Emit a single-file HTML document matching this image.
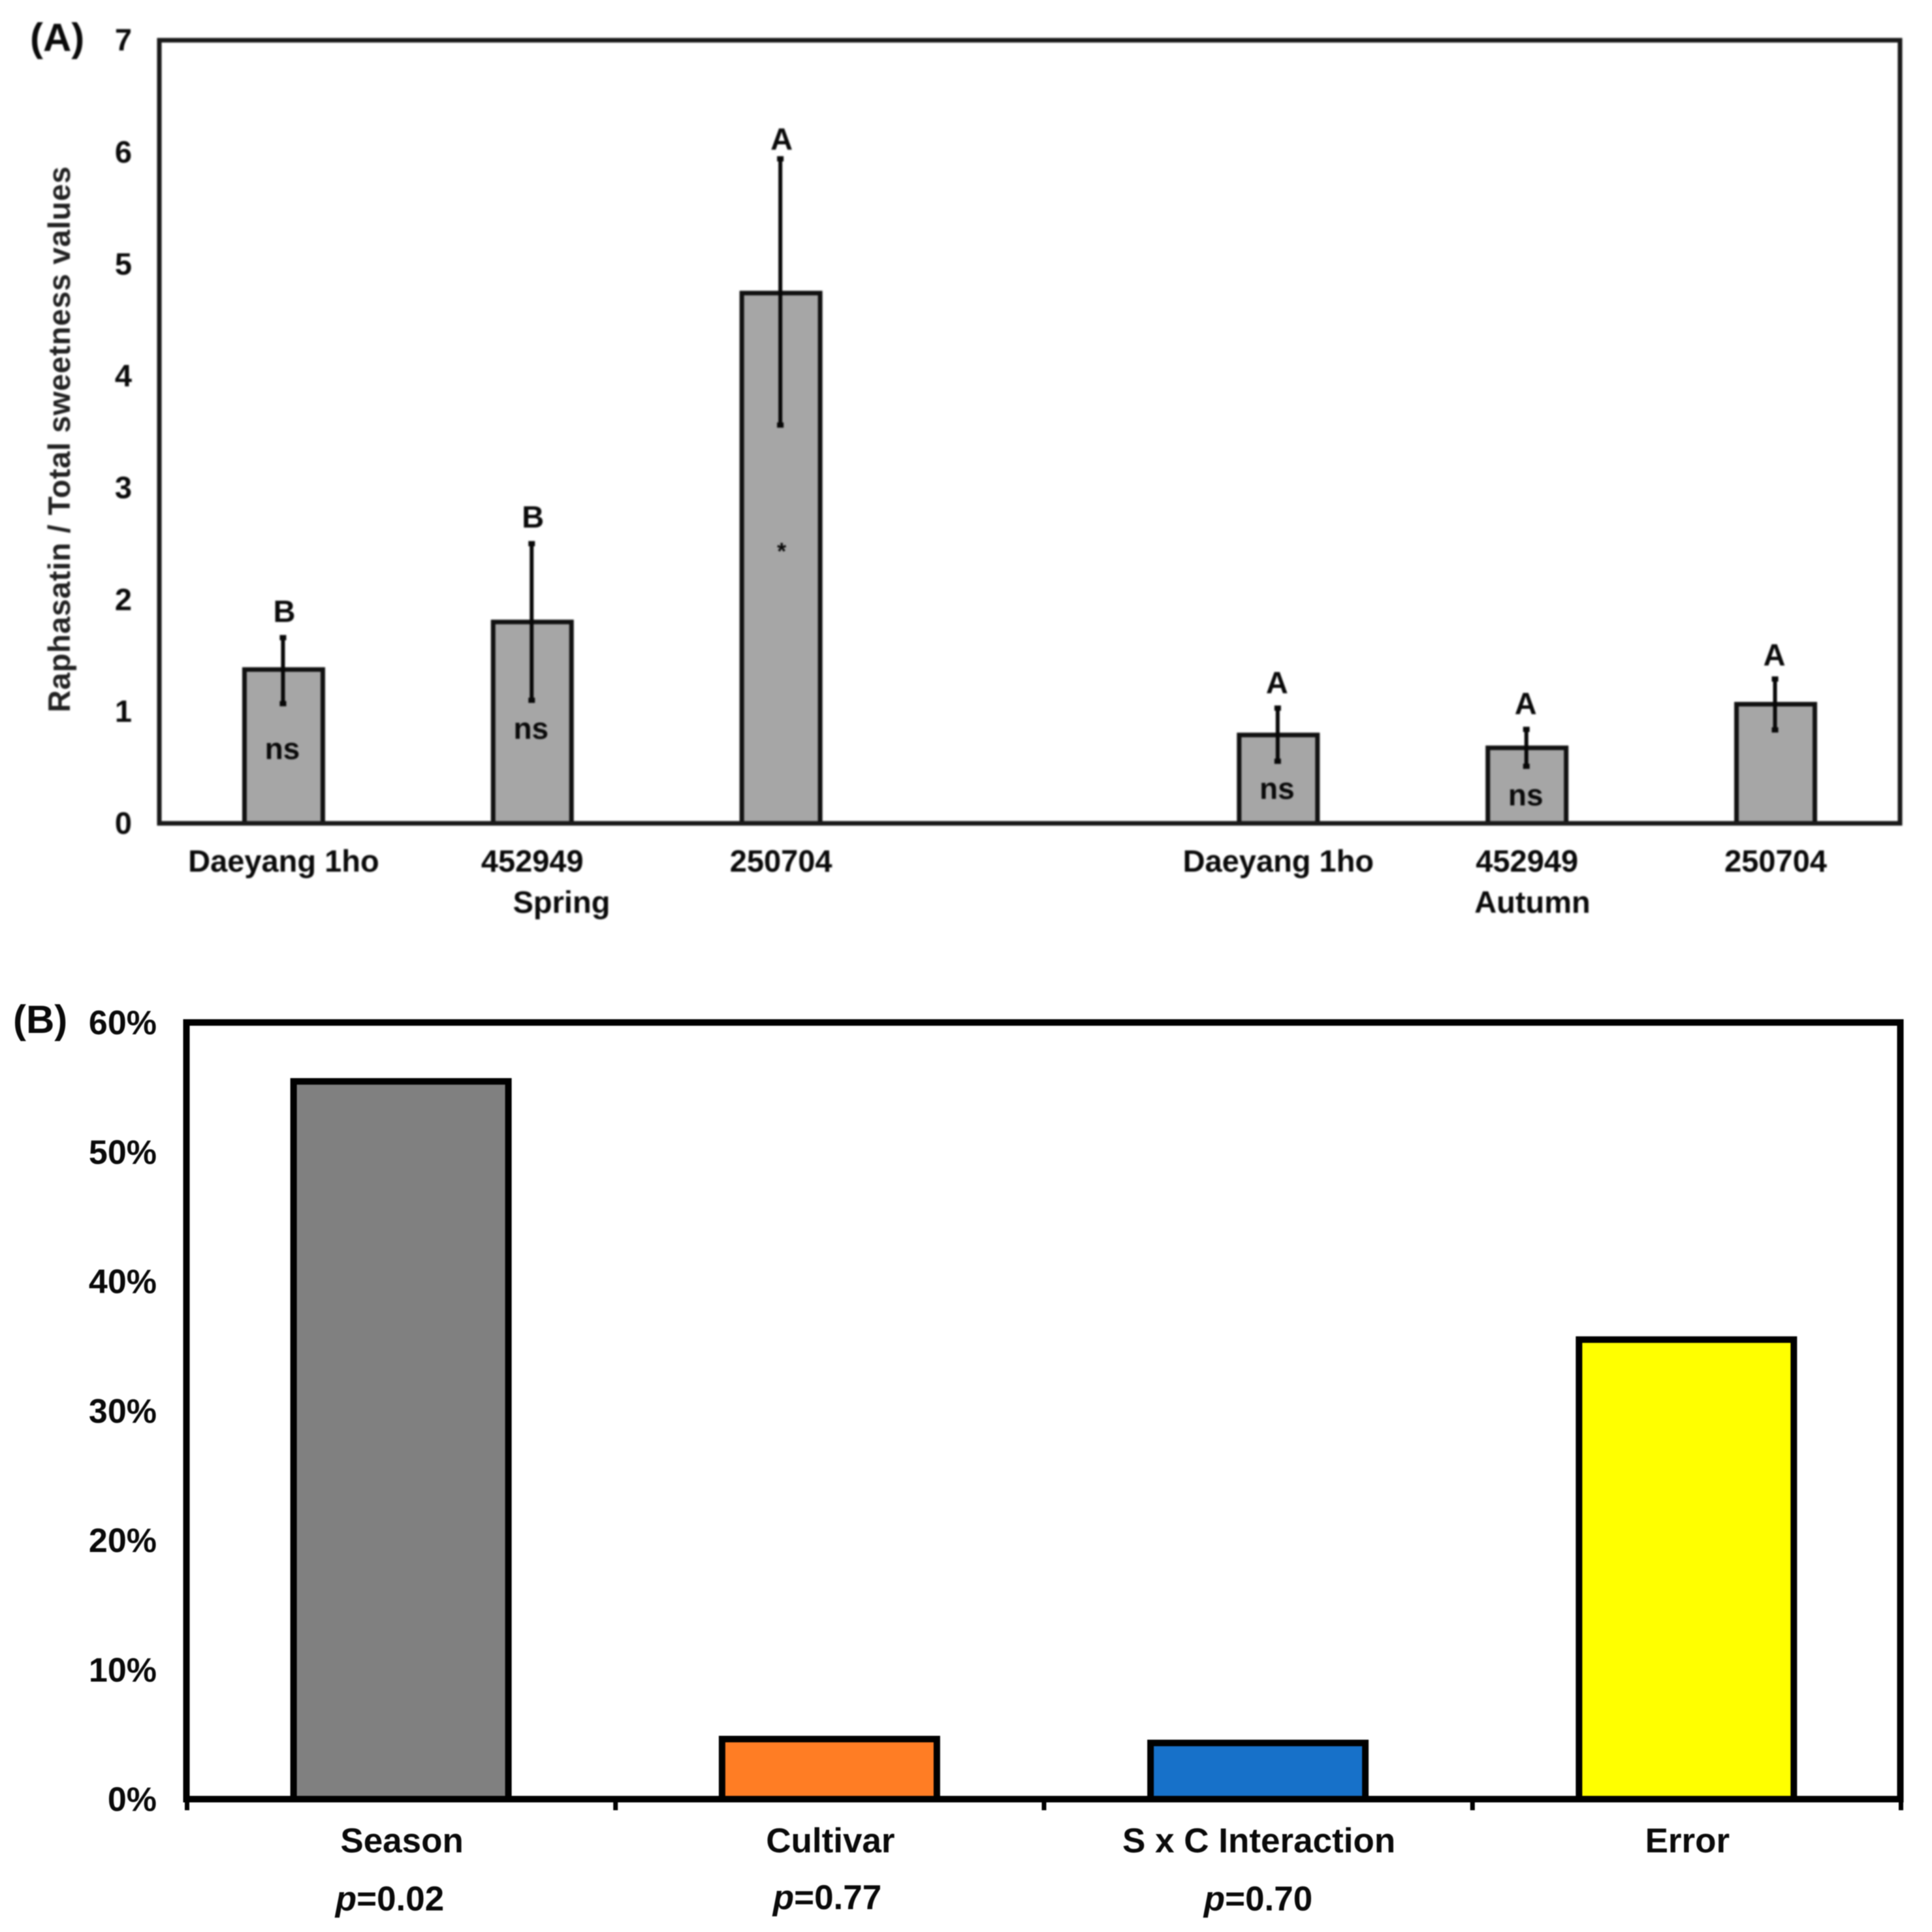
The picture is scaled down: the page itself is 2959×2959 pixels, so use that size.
<!DOCTYPE html>
<html lang="en">
<head>
<meta charset="utf-8">
<title>Raphasatin / total sweetness values and variance components</title>
<style>
html,body{margin:0;padding:0;background:#fff;}
svg{display:block;}
text{font-family:"Liberation Sans",Arial,sans-serif;font-weight:bold;fill:#0a0a0a;}
</style>
</head>
<body>
<svg id="figure" xmlns="http://www.w3.org/2000/svg" width="2959" height="2959" viewBox="0 0 2959 2959">
  <rect x="0" y="0" width="2959" height="2959" fill="#fff"/>
  <g id="panelA" style="filter:blur(1.3px)">
    <text x="46" y="78" font-size="60">(A)</text>
    <text transform="translate(107,1091) rotate(-90)" font-size="47" textLength="836" lengthAdjust="spacing" style="fill:#222">Raphasatin / Total sweetness values</text>
    <text x="860" y="1398" font-size="47" text-anchor="middle">Spring</text>
    <text x="2347" y="1398" font-size="47" text-anchor="middle">Autumn</text>
  </g>
  <g id="panelB" style="filter:blur(0.9px)">
    <text x="20" y="1582" font-size="60">(B)</text>
    <text x="597" y="2926" font-size="53" text-anchor="middle"><tspan font-style="italic">p</tspan>=0.02</text>
    <text x="1267" y="2924" font-size="53" text-anchor="middle"><tspan font-style="italic">p</tspan>=0.77</text>
    <text x="1927" y="2926" font-size="53" text-anchor="middle"><tspan font-style="italic">p</tspan>=0.70</text>
  </g>
</svg>
<script>
// Panel A data
const cultivarsA = ['Daeyang 1ho', '452949', '250704', '', 'Daeyang 1ho', '452949', '250704'];
const meansA = [1.375, 1.80, 4.74, null, 0.79, 0.675, 1.065];
const errUpperA = [1.66, 2.50, 5.94, null, 1.03, 0.84, 1.29];
const errLowerA = [1.07, 1.10, 3.56, null, 0.555, 0.51, 0.835];
const lettersA = ['B', 'B', 'A', '', 'A', 'A', 'A'];
const letterLevelsA = [1.80, 2.645, 6.02, null, 1.16, 0.975, 1.41];
const marksA = ['ns', 'ns', '*', '', 'ns', 'ns', ''];
const markLevelsA = [0.575, 0.755, 2.36, null, 0.22, 0.16, null];
const yTicksA = [0, 1, 2, 3, 4, 5, 6, 7];

// Panel B data
const categoriesB = ['Season', 'Cultivar', 'S x C Interaction', 'Error'];
const valuesB = [55.45, 4.64, 4.34, 35.5];
const coloursB = ['#808080', '#ff7d24', '#1771c9', '#ffff00'];
const yTicksB = [0, 10, 20, 30, 40, 50, 60];

const NS = 'http://www.w3.org/2000/svg';
function mk(parent, tag, attrs, txt) {
  const el = document.createElementNS(NS, tag);
  for (const k in attrs) el.setAttribute(k, attrs[k]);
  if (txt !== undefined) el.textContent = txt;
  parent.appendChild(el);
  return el;
}

// Panel A axes
const aL = 244, aR = 2910, aT = 61.6, aB = 1261;
const yA = v => aB - (v / 7) * (aB - aT);
const slotA = (aR - aL) / cultivarsA.length;
const xA = i => aL + slotA * (i + 0.5);
const barWA = 120;
const gA = document.getElementById('panelA');

cultivarsA.forEach((name, i) => {
  if (meansA[i] === null) return;
  const bar = mk(gA, 'rect', {x: xA(i) - barWA / 2, y: yA(meansA[i]), width: barWA, height: aB - yA(meansA[i]), fill: '#a6a6a6', stroke: '#111', 'stroke-width': 7});
  
  
  const err = mk(gA, 'line', {x1: xA(i) - 1, x2: xA(i) - 1, y1: yA(errUpperA[i]), y2: yA(errLowerA[i]), stroke: '#080808', 'stroke-width': 6});
  
  
  [errUpperA[i], errLowerA[i]].forEach(v => {
    const cap = mk(gA, 'rect', {x: xA(i) - 6, y: yA(v) - 4, width: 10, height: 8, fill: '#080808'});
    
    
  });
  const letter = mk(gA, 'text', {x: xA(i) + (i > 3 ? -2 : 1), y: yA(letterLevelsA[i]), 'font-size': 47, 'text-anchor': 'middle'}, lettersA[i]);
  
  
  if (marksA[i]) {
    const mark = mk(gA, 'text', {x: xA(i) + (i === 2 ? 1 : -2), y: yA(markLevelsA[i]), 'font-size': marksA[i] === '*' ? 36 : 46, 'text-anchor': 'middle'}, marksA[i]);
    
    
  }
  const cat = mk(gA, 'text', {x: xA(i), y: 1335, 'font-size': 47, 'text-anchor': 'middle'}, name);
  
  
});

const frameA = mk(gA, 'path', {d: `M${aL} ${aT}H${aR}V${aB}H${aL}Z`, fill: 'none', stroke: '#1a1a1a', 'stroke-width': 7});



yTicksA.forEach(t => {
  const lab = mk(gA, 'text', {x: 202, y: yA(t) + 16, 'font-size': 47, 'text-anchor': 'end'}, String(t));
  
  
});

// Panel B axes
const bL = 285.5, bR = 2910.5, bT = 1566, bB = 2755.5;
const yB = v => bB - (v / 60) * (bB - bT);
const slotB = (bR - bL) / categoriesB.length;
const xB = i => bL + slotB * (i + 0.5);
const barWB = 329;
const gB = document.getElementById('panelB');

categoriesB.forEach((name, i) => {
  const bar = mk(gB, 'rect', {x: xB(i) - barWB / 2 + 0.5, y: yB(valuesB[i]), width: barWB, height: bB - yB(valuesB[i]), fill: coloursB[i], stroke: '#000', 'stroke-width': 10});
  
  
  const cat = mk(gB, 'text', {x: xB(i) + 2, y: 2837, 'font-size': 53, 'text-anchor': 'middle'}, name);
  
  
});

const frameB = mk(gB, 'path', {d: `M${bL} ${bT}H${bR}V${bB}H${bL}Z`, fill: 'none', stroke: '#000', 'stroke-width': 10});



for (let i = 0; i <= categoriesB.length; i++) {
  const tick = mk(gB, 'line', {x1: bL + slotB * i + 1, x2: bL + slotB * i + 1, y1: bB, y2: bB + 17, stroke: '#000', 'stroke-width': 7});
  
  
}

yTicksB.forEach(t => {
  const lab = mk(gB, 'text', {x: 240, y: yB(t) + 18, 'font-size': 52, 'text-anchor': 'end'}, t + '%');
  
  
});
</script>
</body>
</html>
